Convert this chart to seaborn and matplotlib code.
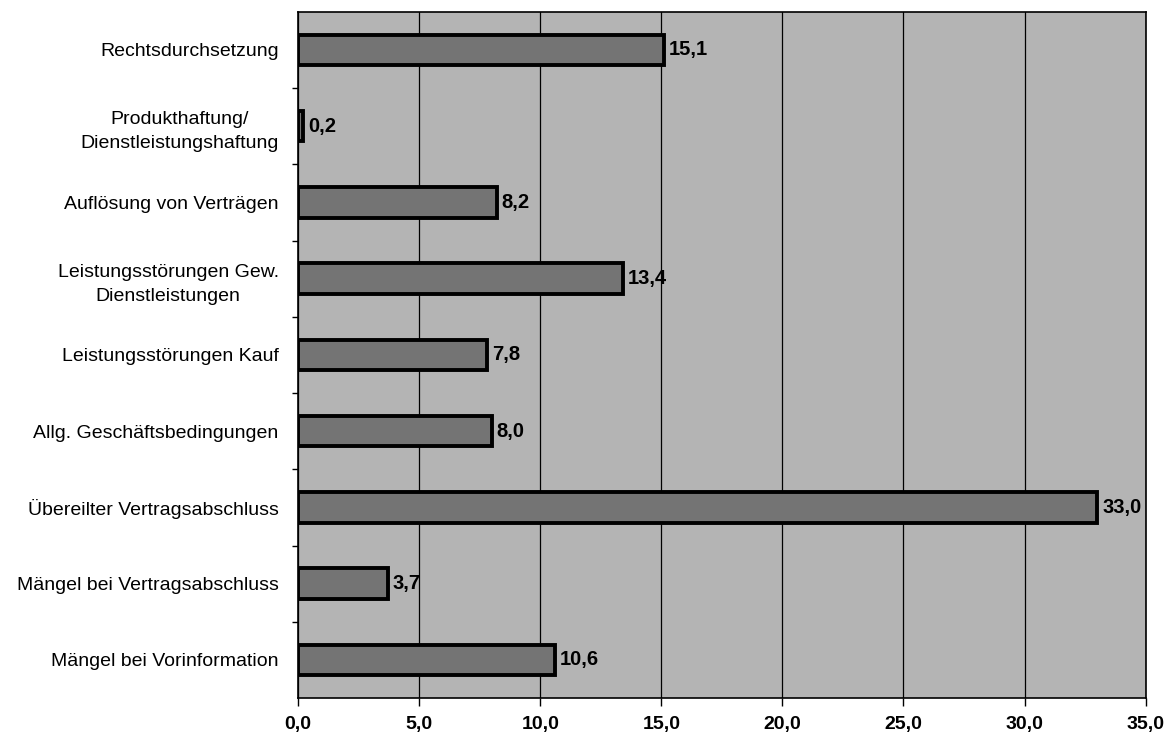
import matplotlib
matplotlib.use("Agg")
import matplotlib.pyplot as plt
from matplotlib.ticker import FixedLocator, FuncFormatter
import seaborn as sns
import pandas as pd

categories = [
    "Rechtsdurchsetzung",
    "Produkthaftung/\nDienstleistungshaftung",
    "Auflösung von Verträgen",
    "Leistungsstörungen Gew.\nDienstleistungen",
    "Leistungsstörungen Kauf",
    "Allg. Geschäftsbedingungen",
    "Übereilter Vertragsabschluss",
    "Mängel bei Vertragsabschluss",
    "Mängel bei Vorinformation",
]
values = [15.1, 0.2, 8.2, 13.4, 7.8, 8.0, 33.0, 3.7, 10.6]
x_ticks = [0.0, 5.0, 10.0, 15.0, 20.0, 25.0, 30.0, 35.0]

df = pd.DataFrame({"Kategorie": categories, "Anteil": values})

sns.set_theme(style="white")
plt.rcParams["font.family"] = ["Liberation Sans", "DejaVu Sans"]
plt.rcParams["text.color"] = "black"
plt.rcParams["xtick.color"] = "black"
plt.rcParams["ytick.color"] = "black"

def de(v):
    return f"{v:.1f}".replace(".", ",")

fig, ax = plt.subplots(figsize=(11.69, 7.39), dpi=100)
fig.subplots_adjust(left=0.255, right=0.980, top=0.984, bottom=0.0555)
ax.set_facecolor("#b4b4b4")

sns.barplot(data=df, y="Kategorie", x="Anteil", orient="h", ax=ax,
            color="#747474", edgecolor="black", linewidth=2.8,
            width=0.4, saturation=1, zorder=3)

ax.set_xlim(0, 35)
ax.set_ylim(len(categories) - 0.5, -0.5)
ax.xaxis.set_major_locator(FixedLocator(x_ticks))
ax.xaxis.set_major_formatter(FuncFormatter(lambda v, p: de(v)))
ax.grid(axis="x", color="black", linewidth=0.9, zorder=1)
ax.set_axisbelow(True)

ax.set_xlabel("")
ax.set_ylabel("")
ax.tick_params(axis="x", direction="out", length=6, width=1,
               labelsize=14, pad=7, bottom=True, labelcolor="black")
for t in ax.get_xticklabels():
    t.set_fontweight("bold")
ax.tick_params(axis="y", length=0, labelsize=14, pad=14, labelcolor="black")
for t in ax.get_yticklabels():
    t.set_multialignment("center")
    t.set_linespacing(1.55)
# small marks between categories
ax.yaxis.set_minor_locator(FixedLocator([i + 0.5 for i in range(len(categories) - 1)]))
ax.tick_params(axis="y", which="minor", direction="out", length=4, width=1, left=True)

for s in ax.spines.values():
    s.set_color("black")
    s.set_linewidth(1.2)

for i, v in enumerate(values):
    ax.text(v + 0.2, i, de(v), va="center", ha="left",
            fontsize=14.5, fontweight="bold", color="black", zorder=4)

fig.savefig("out.png", dpi=100, facecolor="white")
